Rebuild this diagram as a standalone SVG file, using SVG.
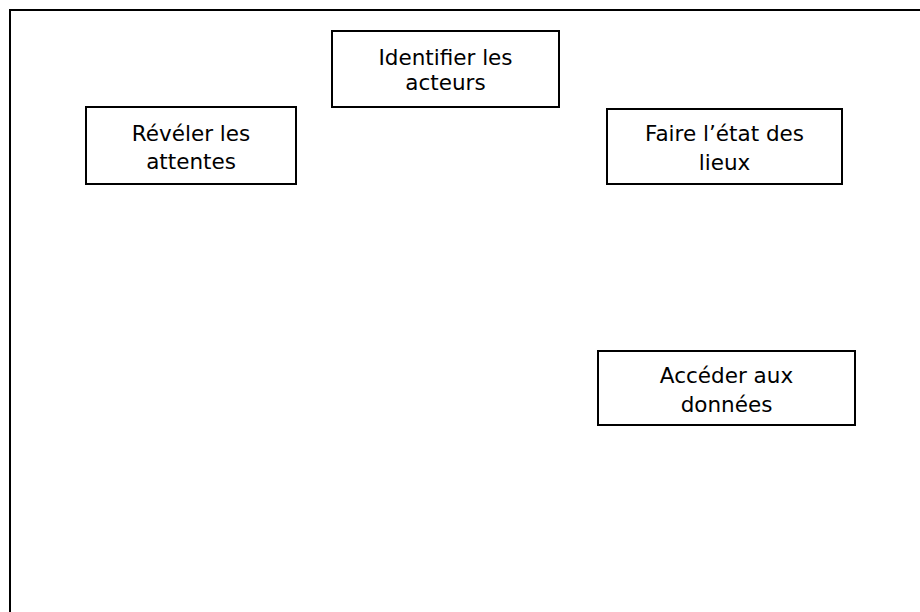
<svg xmlns="http://www.w3.org/2000/svg" width="920" height="612" viewBox="0 0 920 612">
<style>
.box{fill:#fff;stroke:#000;stroke-width:2}
.lbl{font-family:"DejaVu Sans",Verdana,sans-serif;font-size:21.5px;fill:#000;text-anchor:middle}
.frame{fill:none;stroke:#000;stroke-width:2}
</style>
<rect width="920" height="612" fill="#fff"/>
<path class="frame" d="M10 620 V10 H930"/>
<g id="connectors"/>
<g id="identifier">
<rect class="box" x="332" y="31" width="227" height="76"/>
<text class="lbl" x="445.5" y="65">Identifier les</text>
<text class="lbl" x="445.5" y="90">acteurs</text>
</g>
<g id="reveler">
<rect class="box" x="86" y="107" width="210" height="77"/>
<text class="lbl" x="191" y="140.5">Révéler les</text>
<text class="lbl" x="191" y="169">attentes</text>
</g>
<g id="etat">
<rect class="box" x="607" y="109" width="235" height="75"/>
<text class="lbl" x="724.5" y="141">Faire l’état des</text>
<text class="lbl" x="724.5" y="170">lieux</text>
</g>
<g id="donnees">
<rect class="box" x="598" y="351" width="257" height="74"/>
<text class="lbl" x="726.5" y="383">Accéder aux</text>
<text class="lbl" x="726.5" y="412">données</text>
</g>
</svg>
